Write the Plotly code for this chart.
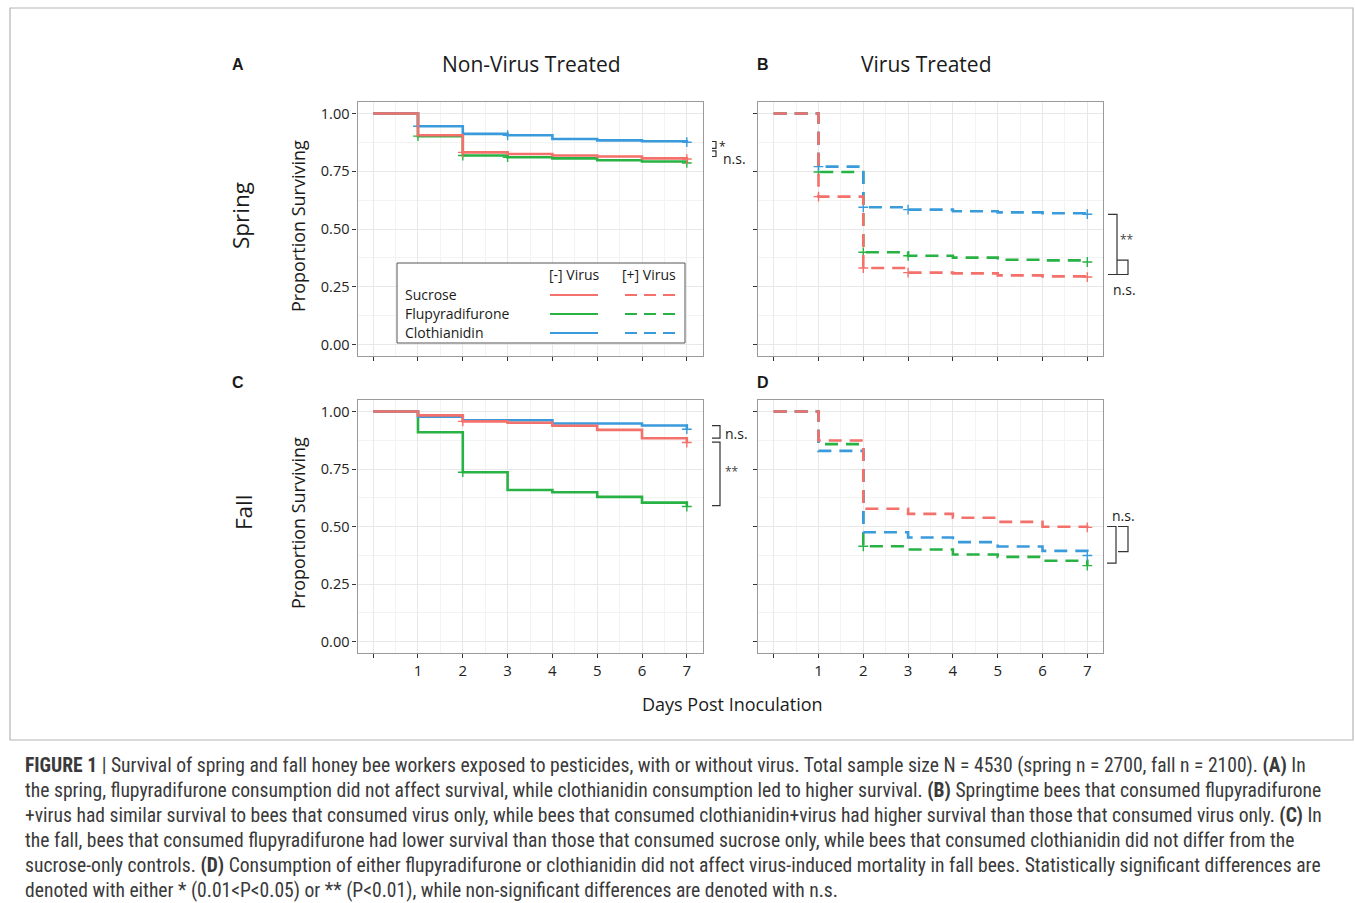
import plotly.graph_objects as go

# ---------------- data ----------------
days = [0, 1, 2, 3, 4, 5, 6, 7]
day_labels = ["", "1", "2", "3", "4", "5", "6", "7"]
y_ticks = [0.0, 0.25, 0.5, 0.75, 1.0]
y_labels = ["0.00", "0.25", "0.50", "0.75", "1.00"]

# Spring, non-virus (panel A)
sucrose_A = [1.00, 0.906, 0.832, 0.825, 0.818, 0.814, 0.806, 0.803]
flupy_A   = [1.00, 0.902, 0.818, 0.811, 0.806, 0.798, 0.792, 0.786]
cloth_A   = [1.00, 0.945, 0.912, 0.906, 0.890, 0.884, 0.880, 0.876]
# Spring, virus (panel B)
sucrose_B = [1.00, 0.640, 0.331, 0.311, 0.308, 0.299, 0.295, 0.292]
flupy_B   = [1.00, 0.747, 0.399, 0.384, 0.376, 0.367, 0.364, 0.357]
cloth_B   = [1.00, 0.770, 0.594, 0.584, 0.577, 0.572, 0.568, 0.564]
# Fall, non-virus (panel C)
sucrose_C = [1.00, 0.983, 0.957, 0.951, 0.938, 0.920, 0.884, 0.865]
flupy_C   = [1.00, 0.910, 0.736, 0.659, 0.649, 0.629, 0.604, 0.587]
cloth_C   = [1.00, 0.977, 0.962, 0.962, 0.948, 0.948, 0.939, 0.923]
# Fall, virus (panel D)
sucrose_D = [1.00, 0.874, 0.577, 0.555, 0.538, 0.520, 0.499, 0.496]
flupy_D   = [1.00, 0.858, 0.414, 0.400, 0.378, 0.368, 0.351, 0.330]
cloth_D   = [1.00, 0.829, 0.475, 0.452, 0.432, 0.413, 0.394, 0.374]

# days carrying censoring "+" marks
cens_sucrose_A = [2, 7]; cens_flupy_A = [1, 2, 3, 7]; cens_cloth_A = [1, 3, 7]
cens_sucrose_B = [1, 2, 3, 7]; cens_flupy_B = [1, 2, 3, 7]; cens_cloth_B = [1, 2, 3, 7]
cens_sucrose_C = [2, 7]; cens_flupy_C = [2, 7]; cens_cloth_C = [7]
cens_sucrose_D = [7]; cens_flupy_D = [2, 7]; cens_cloth_D = [7]

RED, GREEN, BLUE = "#F4706A", "#27B243", "#3A9BDC"
W, H = 1355, 903
FONT = "Open Sans"

def px(x):
    return x / W

def py(y):
    return 1 - y / H

fig = go.Figure()

panels = [
    ("x", "y", "solid", [(flupy_A, cens_flupy_A, GREEN), (cloth_A, cens_cloth_A, BLUE), (sucrose_A, cens_sucrose_A, RED)]),
    ("x2", "y2", "13px,8px", [(flupy_B, cens_flupy_B, GREEN), (cloth_B, cens_cloth_B, BLUE), (sucrose_B, cens_sucrose_B, RED)]),
    ("x3", "y3", "solid", [(flupy_C, cens_flupy_C, GREEN), (cloth_C, cens_cloth_C, BLUE), (sucrose_C, cens_sucrose_C, RED)]),
    ("x4", "y4", "13px,8px", [(flupy_D, cens_flupy_D, GREEN), (cloth_D, cens_cloth_D, BLUE), (sucrose_D, cens_sucrose_D, RED)]),
]
for xa, ya, dash, series in panels:
    for vals, cens, col in series:
        fig.add_trace(go.Scatter(x=days, y=vals, mode="lines", line_shape="hv",
                                 line=dict(color=col, width=2.6, dash=dash),
                                 xaxis=xa, yaxis=ya, showlegend=False, hoverinfo="skip"))
        fig.add_trace(go.Scatter(x=cens, y=[vals[days.index(d)] for d in cens], mode="markers",
                                 marker=dict(symbol="cross-thin", size=7, line=dict(color=col, width=1.4)),
                                 xaxis=xa, yaxis=ya, showlegend=False, hoverinfo="skip"))

# ---------------- axes ----------------
dom = {
    "A": ([357.5, 702.5], [102, 356]),
    "B": ([758, 1103], [102, 356]),
    "C": ([357.5, 702.5], [400, 653]),
    "D": ([758, 1103], [400, 653]),
}
common_x = dict(range=[-0.35, 7.35], tickvals=days, ticktext=day_labels, ticks="outside", ticklen=4,
                tickcolor="#333", showline=True, mirror=True, linecolor="#9a9a9a", linewidth=1.2,
                showgrid=True, gridcolor="#e8e8e8", gridwidth=1, zeroline=False,
                minor=dict(dtick=0.5, tick0=0, showgrid=True, gridcolor="#f3f3f3", ticks=""),
                tickfont=dict(family=FONT, size=15, color="#222"), fixedrange=True)
common_y = dict(range=[-0.05, 1.05], tickvals=y_ticks, ticktext=y_labels, ticks="outside", ticklen=4,
                tickcolor="#333", showline=True, mirror=True, linecolor="#9a9a9a", linewidth=1.2,
                showgrid=True, gridcolor="#e8e8e8", gridwidth=1, zeroline=False,
                minor=dict(dtick=0.125, tick0=0, showgrid=True, gridcolor="#f3f3f3", ticks=""),
                tickfont=dict(family=FONT, size=14.5, color="#222"), fixedrange=True)

names = ["A", "B", "C", "D"]
for i, n in enumerate(names):
    xd, yd = dom[n]
    sfx = "" if i == 0 else str(i + 1)
    xa = dict(common_x, domain=[px(xd[0]), px(xd[1])], anchor="y" + sfx,
              showticklabels=(n in ("C", "D")))
    ya = dict(common_y, domain=[py(yd[1]), py(yd[0])], anchor="x" + sfx,
              showticklabels=(n in ("A", "C")))
    fig.layout["xaxis" + sfx] = xa
    fig.layout["yaxis" + sfx] = ya

annotations = []
shapes = []

def text(x, y, s, size, bold=False, angle=0, xanchor="center", color="#1a1a1a", family=FONT):
    annotations.append(dict(x=px(x), y=py(y), xref="paper", yref="paper", text=("<b>%s</b>" % s) if bold else s,
                            showarrow=False, textangle=angle, xanchor=xanchor, yanchor="middle",
                            font=dict(family=family, size=size, color=color)))

# panel letters & titles
text(238, 65, "A", 16, bold=True, family="Liberation Sans")
text(763, 65, "B", 16, bold=True, family="Liberation Sans")
text(238, 383, "C", 16, bold=True, family="Liberation Sans")
text(763, 383, "D", 16, bold=True, family="Liberation Sans")
text(531, 64, "Non-Virus Treated", 21)
text(926, 64, "Virus Treated", 21)
text(240, 215, "Spring", 22.5, angle=-90)
text(243, 513, "Fall", 22.5, angle=-90)
text(298, 226, "Proportion Surviving", 18, angle=-90)
text(298, 523, "Proportion Surviving", 18, angle=-90)
text(732, 704, "Days Post Inoculation", 18)

# legend box
shapes.append(dict(type="rect", xref="paper", yref="paper", x0=px(397), x1=px(685), y0=py(343), y1=py(263),
                   line=dict(color="#555", width=1), fillcolor="white", layer="above"))
text(574, 274, "[-] Virus", 14)
text(649, 274, "[+] Virus", 14)
leg_rows = [("Sucrose", RED, 294), ("Flupyradifurone", GREEN, 313), ("Clothianidin", BLUE, 332)]
for label, col, yy in leg_rows:
    text(403, yy, label, 14, xanchor="left")
    shapes.append(dict(type="line", xref="paper", yref="paper", x0=px(550), x1=px(598), y0=py(yy + 1), y1=py(yy + 1),
                       line=dict(color=col, width=2.2), layer="above"))
    shapes.append(dict(type="line", xref="paper", yref="paper", x0=px(625), x1=px(675), y0=py(yy + 1), y1=py(yy + 1),
                       line=dict(color=col, width=2.2, dash="12px,7px"), layer="above"))

# significance brackets (x in pixels, y in survival units)
def bracket(yref, x0, x1, ytop, ybot):
    shapes.append(dict(type="path", xref="paper", yref=yref,
                       path="M %f,%f H %f V %f H %f" % (px(x0), ytop, px(x1), ybot, px(x0)),
                       line=dict(color="#333", width=1.2)))

bracket("y", 712, 716, 0.879, 0.849)
bracket("y", 712, 716, 0.838, 0.814)
text(717, 146, "*", 12, xanchor="left")
text(721, 159, "n.s.", 14, xanchor="left")

bracket("y2", 1108, 1117, 0.563, 0.303)
bracket("y2", 1117, 1128, 0.365, 0.303)
text(1118, 239, "**", 12, xanchor="left", color="#444")
text(1124, 289, "n.s.", 14)

bracket("y3", 712, 720, 0.939, 0.884)
bracket("y3", 712, 720, 0.867, 0.591)
text(723, 433, "n.s.", 14, xanchor="left")
text(723, 471, "**", 12, xanchor="left", color="#444")

bracket("y4", 1107, 1116, 0.500, 0.341)
bracket("y4", 1118, 1128, 0.500, 0.391)
text(1123, 515, "n.s.", 14)

# figure frame
shapes.append(dict(type="rect", xref="paper", yref="paper", x0=px(10), x1=px(1353), y0=py(740), y1=py(8),
                   line=dict(color="#b5b5b5", width=1.2), layer="below"))

# caption
caption = [
    "<b>FIGURE 1</b> | Survival of spring and fall honey bee workers exposed to pesticides, with or without virus. Total sample size N = 4530 (spring n = 2700, fall n = 2100). <b>(A)</b> In",
    "the spring, flupyradifurone consumption did not affect survival, while clothianidin consumption led to higher survival. <b>(B)</b> Springtime bees that consumed flupyradifurone",
    "+virus had similar survival to bees that consumed virus only, while bees that consumed clothianidin+virus had higher survival than those that consumed virus only. <b>(C)</b> In",
    "the fall, bees that consumed flupyradifurone had lower survival than those that consumed sucrose only, while bees that consumed clothianidin did not differ from the",
    "sucrose-only controls. <b>(D)</b> Consumption of either flupyradifurone or clothianidin did not affect virus-induced mortality in fall bees. Statistically significant differences are",
    "denoted with either * (0.01&lt;P&lt;0.05) or ** (P&lt;0.01), while non-significant differences are denoted with n.s.",
]
for i, line in enumerate(caption):
    text(23, 765 + 25 * i, line, 19.6, xanchor="left", color="#3a3a3a",
         family="Liberation Sans Narrow, Arial Narrow, Roboto Condensed, Liberation Sans")

fig.update_layout(width=W, height=H, margin=dict(l=0, r=0, t=0, b=0),
                  paper_bgcolor="white", plot_bgcolor="white",
                  annotations=annotations, shapes=shapes, showlegend=False)

fig.write_html("out.html", config={"displayModeBar": False},
               post_script="document.body.style.margin='0';")
